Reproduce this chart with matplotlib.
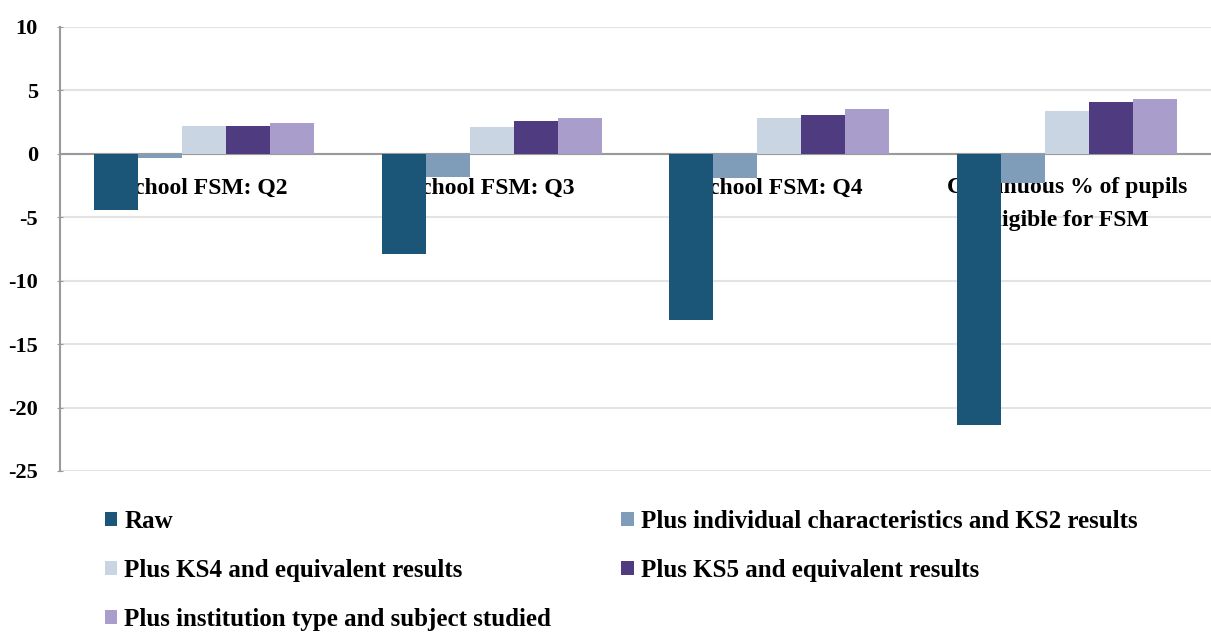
import matplotlib
matplotlib.use("Agg")
import matplotlib.pyplot as plt
import numpy as np

categories = ["School FSM: Q2", "School FSM: Q3", "School FSM: Q4",
              "Continuous % of pupils\neligible for FSM"]
series_names = ["Raw",
                "Plus individual characteristics and KS2 results",
                "Plus KS4 and equivalent results",
                "Plus KS5 and equivalent results",
                "Plus institution type and subject studied"]
raw = [-4.4, -7.9, -13.1, -21.4]
individual = [-0.3, -1.8, -1.9, -2.3]
ks4 = [2.2, 2.1, 2.8, 3.4]
ks5 = [2.2, 2.6, 3.1, 4.1]
institution = [2.4, 2.8, 3.5, 4.3]
yticks = [10, 5, 0, -5, -10, -15, -20, -25]

series = [raw, individual, ks4, ks5, institution]
colors = ["#1b5679", "#7f9db8", "#c9d5e3", "#4f3c80", "#a99ecb"]

plt.rcParams['font.family'] = ['Liberation Serif', 'DejaVu Serif']
plt.rcParams['font.weight'] = 'bold'

fig = plt.figure(figsize=(12.11, 6.39), dpi=100)
ax = fig.add_axes([60/1211, 1-471/639, 1-60/1211, (471-27)/639])

x = np.arange(len(categories))
w = 0.153
handles = []
for i, (vals, c) in enumerate(zip(series, colors)):
    b = ax.bar(x + (i - 2) * w, vals, width=w, color=c, zorder=3,
               label=series_names[i])
    handles.append(b)

ax.set_xlim(-0.5, 3.5)
ax.set_ylim(-25, 10)
ax.spines['bottom'].set_position(('data', 0))
ax.set_yticks(yticks)
ax.set_yticklabels([str(t) for t in yticks])
ax.yaxis.grid(True, color="#e3e3e3", linewidth=1.5, zorder=0)
ax.set_axisbelow(True)

ax.set_xticks(x)
ax.set_xticklabels([])
ax.spines['bottom'].set_color('#9a9a9a')
ax.spines['bottom'].set_linewidth(1.5)
ax.spines['bottom'].set_zorder(2.5)
ax.tick_params(axis='x', length=0)
ax.tick_params(axis='y', length=4, direction='inout', color='#9a9a9a',
               pad=14, labelsize=16)
for xi, cat in zip(x, categories):
    ax.annotate(cat, xy=(xi, 0), xytext=(0, -17), textcoords='offset points',
                ha='center', va='top', fontsize=17, fontweight='bold',
                multialignment='center', linespacing=1.75, zorder=2)
for s in ['top', 'right']:
    ax.spines[s].set_visible(False)
ax.spines['left'].set_color('#9a9a9a')
ax.spines['left'].set_linewidth(1.5)

order = [0, 2, 4, 1, 3]
fig.legend([handles[i] for i in order], [series_names[i] for i in order],
           loc='upper left', bbox_to_anchor=(82/1211, 1-487/639), ncol=2,
           frameon=False, prop={'weight': 'bold', 'size': 18},
           handlelength=0.5, handleheight=0.5, handletextpad=0.3,
           labelspacing=1.05, columnspacing=2.8)

fig.savefig("out.png", dpi=100)
